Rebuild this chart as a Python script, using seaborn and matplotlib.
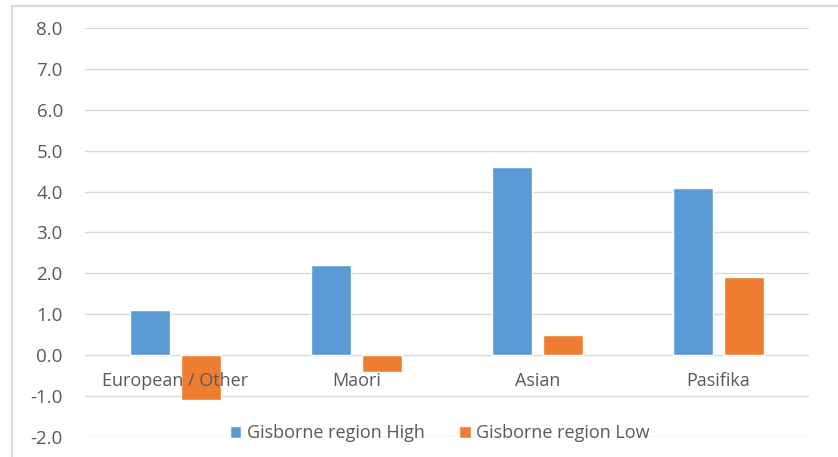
import matplotlib
matplotlib.use("Agg")
import matplotlib.pyplot as plt
import seaborn as sns
import pandas as pd
from matplotlib.patches import Rectangle
from matplotlib.transforms import offset_copy

categories = ["European / Other", "Maori", "Asian", "Pasifika"]
high_values = [1.1, 2.2, 4.6, 4.1]
low_values = [-1.1, -0.4, 0.5, 1.9]
series_names = ["Gisborne region High", "Gisborne region Low"]
y_ticks = [-2.0, -1.0, 0.0, 1.0, 2.0, 3.0, 4.0, 5.0, 6.0, 7.0, 8.0]
colors = ["#5B9BD5", "#ED7D31"]

df = pd.DataFrame({
    "cat": categories * 2,
    "series": [series_names[0]] * 4 + [series_names[1]] * 4,
    "value": high_values + low_values,
})

sns.set_theme(style="white")
plt.rcParams["font.family"] = ["Open Sans", "DejaVu Sans"]
text_color = "#595959"

fig = plt.figure(figsize=(8.38, 4.57), dpi=100)
ax = fig.add_axes([85 / 838, 1 - 437 / 457, (809 - 85) / 838, (437 - 28) / 457])

sns.barplot(data=df, x="cat", y="value", hue="series", palette=colors,
            width=0.56, gap=0.21, ax=ax, saturation=1, legend=True)

ax.set_ylim(-2, 8)
ax.set_xlim(-0.5, 3.5)
ax.set_yticks(y_ticks)
ax.set_yticklabels([f"{v:.1f}" for v in y_ticks], color=text_color, fontsize=13.5)
ax.tick_params(axis="y", length=0, pad=16)
ax.set_xticks([])
ax.set_xlabel("")
ax.set_ylabel("")
for s in ax.spines.values():
    s.set_visible(False)
ax.yaxis.grid(True, color="#d9d9d9", linewidth=1)
ax.set_axisbelow(True)

trans = offset_copy(ax.transData, fig=fig, x=0, y=-12, units="points")
for i, c in enumerate(categories):
    ax.text(i, 0, c, transform=trans, ha="center", va="top",
            color=text_color, fontsize=13)

handles, labels = ax.get_legend_handles_labels()
ax.legend(handles, labels, loc="center", bbox_to_anchor=(0.49, 0.01),
          ncol=2, frameon=False, fontsize=13, handlelength=0.65,
          handleheight=0.65, handletextpad=0.3, columnspacing=1.9,
          labelcolor=text_color)

fig.patches.append(Rectangle((12 / 838, -0.1), 1.2, 1 - 6 / 457 + 0.1,
                             transform=fig.transFigure, fill=False,
                             edgecolor="#d9d9d9", linewidth=1.5))

fig.savefig("out.png", dpi=100)
